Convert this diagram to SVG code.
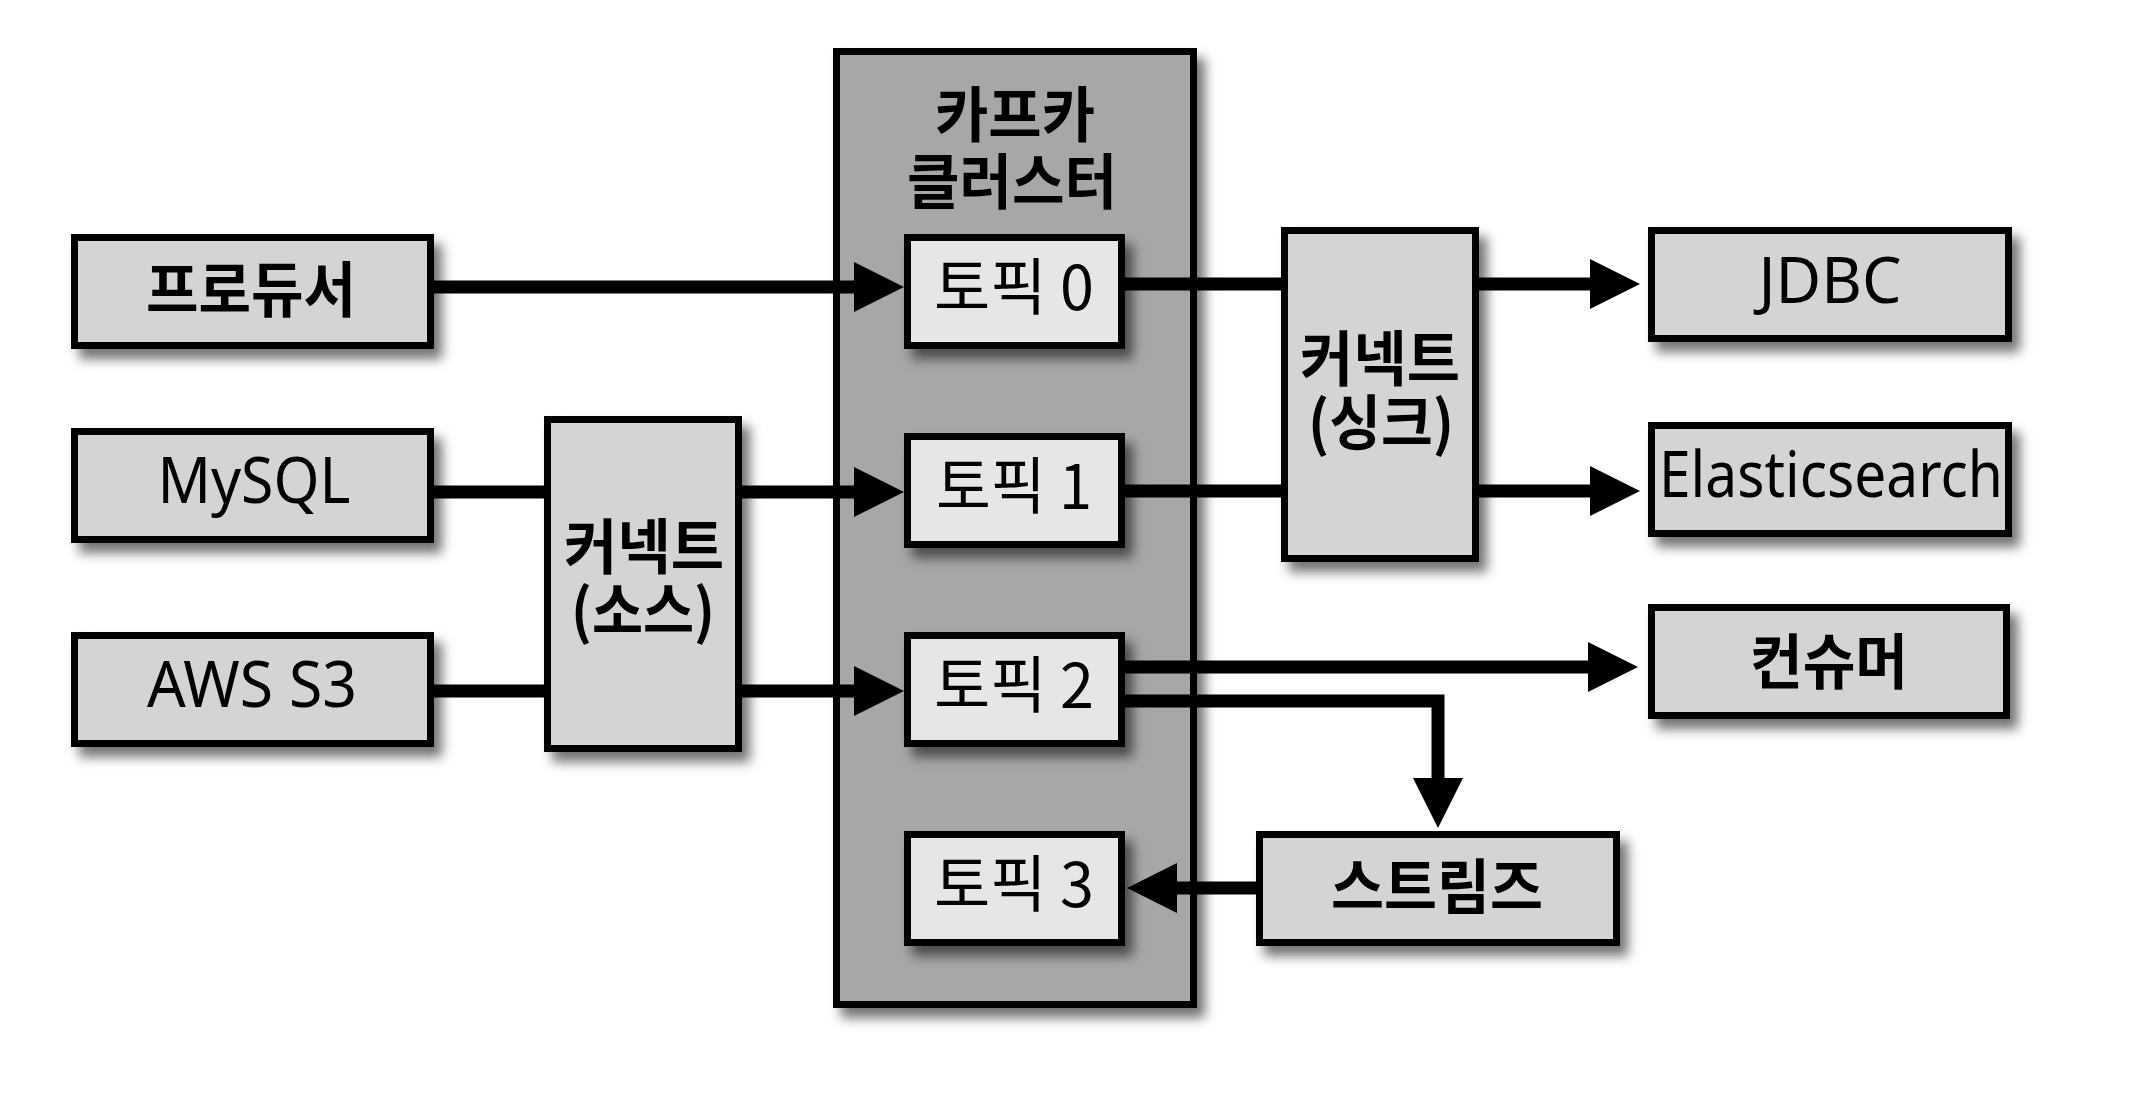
<svg xmlns="http://www.w3.org/2000/svg" width="2150" height="1112" viewBox="0 0 2150 1112">
<style>
.box{fill:#d4d4d4;stroke:#000;stroke-width:7;filter:url(#sh)}
.topic{fill:#e6e6e6;stroke:#000;stroke-width:7;filter:url(#sh)}
.cluster{fill:#a7a7a7;stroke:#000;stroke-width:7;filter:url(#sh)}
.ko{font-family:"Noto Sans CJK KR","Noto Sans",sans-serif;font-size:60px;font-weight:700;fill:#000;text-anchor:middle}
.kr{font-family:"Noto Sans CJK KR","Noto Sans",sans-serif;font-size:62px;font-weight:400;fill:#000;text-anchor:middle}
.en{font-family:"Noto Sans","Open Sans",sans-serif;font-size:63px;font-weight:400;fill:#000;text-anchor:middle}
.edge{fill:none;stroke:#000;stroke-width:13;stroke-linejoin:miter}
.arr{marker-end:url(#ah)}
</style>
<defs>
<filter id="sh" x="-20%" y="-20%" width="150%" height="150%">
<feDropShadow dx="8" dy="10" stdDeviation="6" flood-color="#000" flood-opacity="0.55"/>
</filter>
<marker id="ah" markerUnits="userSpaceOnUse" markerWidth="52" markerHeight="52" refX="2" refY="25" orient="auto">
<path d="M0,0 L50,25 L0,50 Z" fill="#000"/>
</marker>
</defs>
<rect width="2150" height="1112" fill="#fff"/>

<g id="kafka-cluster">
<rect class="cluster" x="836.5" y="51.5" width="357" height="953"/>
<text class="ko"><tspan x="1015" y="137" textLength="160" lengthAdjust="spacingAndGlyphs">카프카</tspan><tspan x="1012" y="204" textLength="210" lengthAdjust="spacingAndGlyphs">클러스터</tspan></text>
</g>

<g id="producer">
<rect class="box" x="74.5" y="237.5" width="356" height="108"/>
<text class="ko" x="251" y="312" textLength="210" lengthAdjust="spacingAndGlyphs">프로듀서</text>
</g>
<g id="mysql">
<rect class="box" x="74.5" y="431.5" width="356" height="108"/>
<text class="en" x="254" y="503" textLength="193" lengthAdjust="spacingAndGlyphs">MySQL</text>
</g>
<g id="aws-s3">
<rect class="box" x="74.5" y="635.5" width="356" height="108"/>
<text class="en" x="252" y="707" textLength="210" lengthAdjust="spacingAndGlyphs">AWS S3</text>
</g>
<g id="connect-source">
<rect class="box" x="547.5" y="419.5" width="191" height="329"/>
<text class="ko"><tspan x="644" y="569" textLength="160" lengthAdjust="spacingAndGlyphs">커넥트</tspan><tspan x="643" y="633" textLength="144" lengthAdjust="spacingAndGlyphs">(소스)</tspan></text>
</g>

<g id="topic0">
<rect class="topic" x="907.5" y="237.5" width="214" height="108"/>
<text class="kr" x="1014" y="310" textLength="160" lengthAdjust="spacingAndGlyphs">토픽 0</text>
</g>
<g id="topic1">
<rect class="topic" x="907.5" y="436.5" width="214" height="108"/>
<text class="kr" x="1014" y="509" textLength="156" lengthAdjust="spacingAndGlyphs">토픽 1</text>
</g>
<g id="topic2">
<rect class="topic" x="907.5" y="635.5" width="214" height="108"/>
<text class="kr" x="1014" y="708" textLength="160" lengthAdjust="spacingAndGlyphs">토픽 2</text>
</g>
<g id="topic3">
<rect class="topic" x="907.5" y="834.5" width="214" height="108"/>
<text class="kr" x="1014" y="907" textLength="160" lengthAdjust="spacingAndGlyphs">토픽 3</text>
</g>

<g id="connect-sink">
<rect class="box" x="1284.5" y="230.5" width="191" height="328"/>
<text class="ko"><tspan x="1380" y="381" textLength="160" lengthAdjust="spacingAndGlyphs">커넥트</tspan><tspan x="1381" y="445" textLength="146" lengthAdjust="spacingAndGlyphs">(싱크)</tspan></text>
</g>
<g id="jdbc">
<rect class="box" x="1651.5" y="230.5" width="357" height="108"/>
<text class="en" x="1830" y="303" textLength="143" lengthAdjust="spacingAndGlyphs">JDBC</text>
</g>
<g id="elasticsearch">
<rect class="box" x="1651.5" y="425.5" width="357" height="108"/>
<text class="en" x="1831" y="497" textLength="344" lengthAdjust="spacingAndGlyphs">Elasticsearch</text>
</g>
<g id="consumer">
<rect class="box" x="1651.5" y="607.5" width="355" height="108"/>
<text class="ko" x="1829" y="684" textLength="158" lengthAdjust="spacingAndGlyphs">컨슈머</text>
</g>
<g id="streams">
<rect class="box" x="1259.5" y="834.5" width="357" height="108"/>
<text class="ko" x="1437" y="909" textLength="212" lengthAdjust="spacingAndGlyphs">스트림즈</text>
</g>

<g id="connectors">
<path class="edge arr" d="M434,287 H856"/>
<path class="edge" d="M1125,284 H1281"/>
<path class="edge arr" d="M1479,284 H1592"/>
<path class="edge" d="M1125,491 H1281"/>
<path class="edge arr" d="M1479,491 H1592"/>
<path class="edge" d="M434,492 H544"/>
<path class="edge arr" d="M742,492 H856"/>
<path class="edge" d="M434,691 H544"/>
<path class="edge arr" d="M742,691 H856"/>
<path class="edge arr" d="M1125,667 H1590"/>
<path class="edge arr" d="M1125,701 H1438 V780"/>
<path class="edge arr" d="M1256,888 H1175"/>
</g>
</svg>
